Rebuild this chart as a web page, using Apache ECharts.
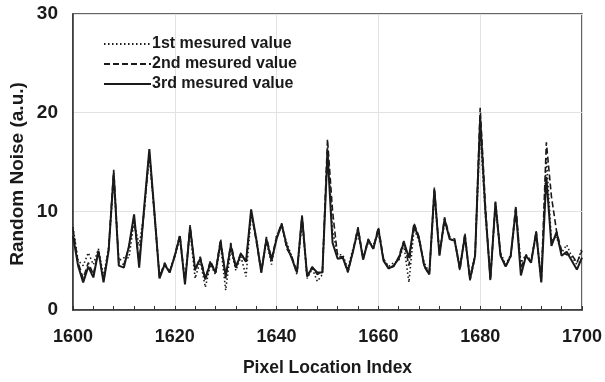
<!DOCTYPE html>
<html>
<head>
<meta charset="utf-8">
<script src="https://cdn.jsdelivr.net/npm/echarts@6/dist/echarts.min.js"></script>
<style>
  html, body { margin: 0; padding: 0; background: #fff; }
  #chart { width: 605px; height: 382px; }
</style>
</head>
<body>
<div id="chart"></div>
<script>
// Pixel indices 1600..1700
const pixelIndex = [];
for (let p = 1600; p <= 1700; p++) pixelIndex.push(p);

const xTicks = [1600, 1620, 1640, 1660, 1680, 1700];
const yTicks = [0, 10, 20, 30];

// Random noise per pixel, three repeated measurements (a.u.)
const firstMeasured = [
  8.4, 5.0, 4.5, 5.8, 4.6, 6.2, 3.4, 6.3, 13.2, 5.0,
  5.3, 5.3, 9.0, 6.5, 10.0, 15.8, 9.5, 3.5, 4.6, 4.0,
  5.4, 7.2, 3.0, 8.0, 3.2, 5.0, 2.3, 4.6, 3.6, 6.6,
  2.0, 6.2, 4.0, 5.4, 3.4, 9.6, 7.4, 4.0, 7.0, 4.6,
  7.6, 8.4, 6.8, 5.4, 3.6, 9.0, 3.2, 4.2, 2.9, 3.6,
  16.5, 8.0, 5.6, 5.6, 4.2, 6.2, 7.6, 5.4, 6.8, 6.6,
  7.8, 5.2, 4.4, 4.8, 5.0, 6.6, 2.8, 8.2, 7.0, 4.8,
  3.8, 11.6, 5.8, 8.8, 7.4, 6.8, 4.6, 7.2, 3.4, 5.6,
  18.2, 9.8, 3.4, 10.4, 5.8, 4.6, 5.6, 9.8, 4.8, 5.6,
  5.0, 7.6, 3.2, 15.5, 7.0, 7.4, 5.8, 6.6, 5.4, 4.6,
  6.3
];
const secondMeasured = [
  8.2, 4.8, 3.2, 4.8, 3.6, 6.0, 3.0, 6.2, 14.2, 4.8,
  4.6, 6.4, 9.2, 4.8, 10.2, 16.0, 9.8, 3.3, 4.8, 3.8,
  5.6, 7.6, 2.8, 8.6, 4.0, 5.4, 3.2, 5.0, 3.8, 7.2,
  3.2, 6.8, 4.4, 5.8, 4.8, 10.0, 7.0, 3.8, 7.4, 5.2,
  7.4, 8.8, 6.2, 5.4, 3.8, 9.6, 3.4, 4.4, 3.6, 3.9,
  17.3, 10.0, 5.4, 5.4, 3.8, 6.0, 8.4, 5.2, 7.2, 6.2,
  8.4, 5.2, 4.2, 4.4, 5.4, 7.0, 4.5, 8.8, 7.4, 4.4,
  3.6, 12.4, 5.6, 9.4, 7.4, 7.2, 4.0, 7.8, 3.0, 5.4,
  20.5, 10.8, 3.0, 11.0, 5.6, 4.4, 5.4, 10.6, 4.2, 5.6,
  4.8, 8.0, 2.8, 17.0, 11.5, 8.0, 6.0, 5.6, 5.6, 4.8,
  6.0
];
const thirdMeasured = [
  7.5, 4.5, 2.8, 4.4, 3.3, 6.0, 2.8, 6.0, 13.9, 4.5,
  4.3, 6.5, 9.7, 4.3, 10.5, 16.3, 9.9, 3.2, 4.6, 3.8,
  5.5, 7.5, 2.6, 8.4, 4.1, 5.2, 3.1, 4.8, 3.8, 6.9,
  3.4, 6.5, 4.3, 5.7, 4.9, 10.2, 7.2, 3.8, 7.2, 5.0,
  7.2, 8.7, 6.5, 5.2, 3.8, 9.5, 3.4, 4.3, 3.8, 3.8,
  16.0, 6.8, 5.2, 5.3, 3.9, 5.9, 8.2, 5.1, 7.1, 6.2,
  8.2, 5.0, 4.2, 4.5, 5.2, 6.9, 5.3, 8.6, 7.2, 4.5,
  3.6, 12.2, 5.5, 9.2, 7.2, 7.0, 4.2, 7.5, 3.1, 5.5,
  19.5, 10.2, 3.1, 10.9, 5.5, 4.4, 5.5, 10.2, 3.5, 5.5,
  4.8, 7.9, 2.8, 13.5, 6.5, 7.9, 5.5, 5.9, 5.0, 4.1,
  5.3
];

const seriesNames = ['1st mesured value', '2nd mesured value', '3rd mesured value'];
const yTitle = 'Random Noise (a.u.)';

const FONT = "'Liberation Sans', Arial, sans-serif";
const INK = '#1a1a1a';

function pairs(values) {
  return values.map((v, i) => [pixelIndex[i], v]);
}

const chart = echarts.init(document.getElementById('chart'), null, { renderer: 'canvas' });

chart.setOption({
  animation: false,
  backgroundColor: '#ffffff',
  grid: {
    left: 73, right: 22, top: 14, bottom: 71,
    show: true, borderColor: '#333', borderWidth: 1.5, backgroundColor: 'transparent'
  },
  legend: {
    left: 98, top: 30, orient: 'vertical',
    itemWidth: 47, itemHeight: 10, itemGap: 2,
    itemStyle: { opacity: 0 },
    textStyle: {
      fontFamily: FONT, fontWeight: 'bold', fontSize: 16, color: INK,
      lineHeight: 18, padding: [0, 0, 0, -4]
    },
    data: seriesNames
  },
  xAxis: {
    type: 'value', min: 1600, max: 1700, interval: 20,
    axisLine: { show: true, lineStyle: { color: '#333', width: 1.5 } },
    axisTick: { show: true, inside: true, length: 4, lineStyle: { color: '#333' } },
    minorTick: { show: true, splitNumber: 5, length: 4, lineStyle: { color: '#333' } },
    splitLine: { show: true, lineStyle: { color: '#e2e2e2', width: 1 } },
    axisLabel: {
      fontFamily: FONT, fontWeight: 'bold', fontSize: 18, color: INK, margin: 18,
      formatter: v => (xTicks.includes(v) ? String(v) : '')
    },
    name: 'Pixel Location Index', nameLocation: 'middle', nameGap: 49,
    nameTextStyle: { fontFamily: FONT, fontWeight: 'bold', fontSize: 17.5, color: INK }
  },
  yAxis: {
    type: 'value', min: 0, max: 30, interval: 10,
    axisLine: { show: true, lineStyle: { color: '#333', width: 1.5 } },
    axisTick: { show: false },
    splitLine: { show: true, lineStyle: { color: '#e2e2e2', width: 1 } },
    axisLabel: {
      fontFamily: FONT, fontWeight: 'bold', fontSize: 19, color: INK, margin: 15,
      formatter: v => (yTicks.includes(v) ? String(v) : '')
    }
  },
  graphic: [
    {
      type: 'text', x: 18, y: 174, rotation: Math.PI / 2,
      style: {
        text: yTitle, fontFamily: FONT, fontWeight: 'bold', fontSize: 19, fill: INK,
        align: 'center', verticalAlign: 'middle'
      }
    }
  ],
  series: [
    {
      name: seriesNames[0], type: 'line', data: pairs(firstMeasured),
      showSymbol: false, symbol: 'none', smooth: false,
      lineStyle: { color: INK, width: 1.6, type: [1.5, 2.5] },
      itemStyle: { color: INK }
    },
    {
      name: seriesNames[1], type: 'line', data: pairs(secondMeasured),
      showSymbol: false, symbol: 'none', smooth: false,
      lineStyle: { color: INK, width: 1.6, type: [6, 3] },
      itemStyle: { color: INK }
    },
    {
      name: seriesNames[2], type: 'line', data: pairs(thirdMeasured),
      showSymbol: false, symbol: 'none', smooth: false,
      lineStyle: { color: INK, width: 2 },
      itemStyle: { color: INK }
    }
  ]
});
</script>
</body>
</html>
